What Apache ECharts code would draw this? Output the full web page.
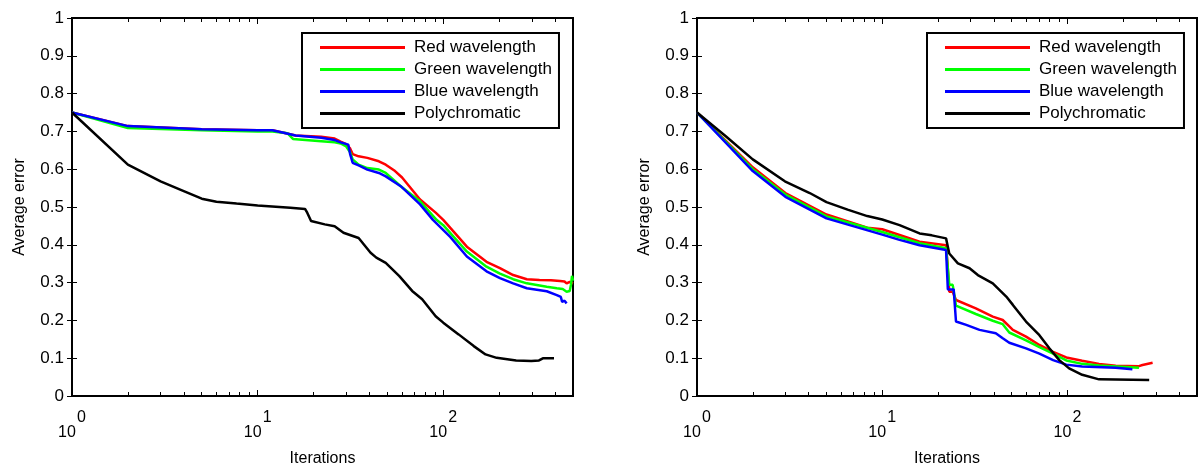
<!DOCTYPE html>
<html>
<head>
<meta charset="utf-8">
<script src="https://cdn.jsdelivr.net/npm/echarts@6.0.0/dist/echarts.min.js"></script>
<style>
body{margin:0;background:#fff;}
#chart{width:1199px;height:466px;}
</style>
</head>
<body>
<div id="chart"></div>
<script>
// [iterations, average error]
var leftRed = [[1,.75],[2,.714],[5,.706],[10,.703],[12,.703],[14,.696],[16,.689],[22,.686],[26,.681],[28,.673],[30,.666],[31.5,.655],[32.5,.640],[35,.634],[39,.630],[45,.621],[49,.612],[55,.595],[60,.578],[75,.52],[91,.485],[100,.466],[134,.395],[171,.355],[202,.338],[238,.320],[282,.309],[330,.307],[380,.306],[426,.304],[450,.303],[462,.298],[480,.302],[500,.298]];
var leftGreen = [[1,.75],[2,.709],[5,.703],[10,.700],[12,.700],[14.5,.695],[15.5,.680],[22,.674],[26,.671],[28,.668],[30,.660],[31.5,.645],[32.5,.626],[35,.612],[39,.603],[45,.599],[49,.590],[59,.555],[75,.515],[92,.466],[100,.452],[134,.382],[171,.342],[202,.324],[238,.309],[282,.298],[361,.289],[409,.285],[440,.283],[462,.276],[472,.280],[480,.278],[488,.295],[494,.318],[500,.305]];
var leftBlue = [[1,.75],[2,.714],[5,.706],[10,.703],[12,.703],[14,.696],[16,.689],[22,.683],[26,.677],[28,.671],[30.8,.665],[31.5,.640],[32.5,.617],[35,.610],[39,.599],[45,.590],[49,.581],[59,.555],[75,.507],[88,.466],[109,.421],[134,.369],[171,.330],[202,.312],[238,.298],[282,.285],[361,.277],[409,.267],[430,.262],[437,.249],[450,.252],[462,.245]];
var leftPoly = [[1,.75],[2,.612],[3,.568],[4,.542],[5,.522],[6,.514],[7.7,.509],[10,.504],[15,.498],[18,.495],[18.5,.485],[19.4,.463],[23,.454],[26,.449],[29,.432],[35,.418],[40.6,.379],[43.6,.366],[49,.352],[58,.317],[68,.278],[77,.256],[91,.211],[100,.194],[121,.163],[146,.132],[169,.110],[194,.101],[247,.094],[298,.0925],[328,.094],[344,.0996],[395,.0996]];

var rightRed = [[1,.75],[2,.605],[3,.537],[5,.480],[8.3,.445],[10,.441],[12.4,.426],[15.9,.408],[22.1,.399],[22.5,.35],[23,.276],[24,.276],[25,.254],[32,.232],[39.5,.21],[44.7,.201],[50.7,.175],[59.7,.157],[70.5,.135],[83.6,.117],[98.5,.102],[120,.093],[148,.085],[182,.08],[243,.079],[254,.082],[288,.088]];
var rightGreen = [[1,.75],[2,.600],[3,.533],[5,.475],[10,.434],[12.4,.420],[15.9,.404],[22.1,.391],[23,.294],[24,.294],[25,.239],[32,.217],[39.5,.199],[44.7,.190],[48.5,.168],[59.7,.147],[70.5,.129],[83.6,.112],[98.5,.094],[120,.085],[148,.081],[243,.075]];
var rightBlue = [[1,.75],[2,.595],[3,.527],[5,.470],[10,.427],[12.4,.413],[15.9,.399],[22.1,.386],[22.6,.282],[24.3,.282],[25,.197],[28.4,.188],[33.5,.175],[41,.166],[44.7,.153],[48.5,.141],[59.7,.126],[70.5,.112],[83.6,.095],[98.5,.083],[120,.078],[182,.075],[224,.071]];
var rightPoly = [[1,.75],[1.43,.687],[2,.626],[2.98,.568],[4.06,.537],[5,.513],[6.5,.493],[8.3,.476],[10,.467],[12.4,.452],[15.9,.430],[18.5,.425],[22.1,.417],[23,.377],[25.6,.351],[29.6,.338],[32.8,.320],[39.5,.298],[46.7,.263],[50.7,.241],[59.7,.197],[70.5,.161],[79.8,.126],[90.3,.095],[102,.073],[120,.056],[148,.044],[276,.042]];

var legendNames = ['Red wavelength','Green wavelength','Blue wavelength','Polychromatic'];
var lineColors = ['#ff0000','#00ff00','#0000ff','#000000'];
var panels = [[leftRed,leftGreen,leftBlue,leftPoly],[rightRed,rightGreen,rightBlue,rightPoly]];

var xMin = 1, xMax = 500;
var majorTicks = [1,10,100];
var minorTicks = [2,3,4,5,6,7,8,9,20,30,40,50,60,70,80,90,200,300,400];

var FONT = '"Liberation Sans", Arial, sans-serif';
var grids = [
	{left:72, top:18, width:501, height:378},
	{left:697, top:18, width:500, height:378}
];
var legendLeft = [302, 927];

// axis that only draws inward ticks (placed in log10 space)
function tickAxis(gi, pos, vals, len){
	return {
		type:'value', gridIndex:gi, position:pos,
		min:0, max:Math.log10(xMax),
		axisLine:{show:false}, axisLabel:{show:false}, splitLine:{show:false},
		axisTick:{show:true, inside:true, length:len,
			customValues:vals.map(function(v){return Math.log10(v);}),
			lineStyle:{color:'#000', width:1}}
	};
}

var xAxes = [], yAxes = [], series = [], legends = [];
grids.forEach(function(g, gi){
	g.show = true;
	g.borderColor = '#000';
	g.borderWidth = 2;
	g.backgroundColor = '#fff';
	g.containLabel = false;
	g.outerBoundsMode = 'none';
	var mainX = xAxes.length;
	xAxes.push({
		type:'log', logBase:10, gridIndex:gi, min:xMin, max:xMax,
		name:'Iterations', nameLocation:'middle', nameGap:55,
		nameTextStyle:{fontFamily:FONT, fontSize:16, color:'#000'},
		axisLine:{show:false}, axisTick:{show:false}, splitLine:{show:false},
		axisLabel:{
			margin:14, showMaxLabel:false,
			formatter:function(v){
				var e = Math.log10(v);
				if (Math.abs(e - Math.round(e)) > 1e-6) return '';
				return '{e|' + Math.round(e) + '}\n{b|10}';
			},
			rich:{
				e:{fontFamily:FONT, fontSize:16, color:'#000', align:'right', lineHeight:15},
				b:{fontFamily:FONT, fontSize:16, color:'#000', align:'left', lineHeight:15, padding:[0,10,0,0]}
			}
		}
	});
	xAxes.push(tickAxis(gi,'bottom',majorTicks,6));
	xAxes.push(tickAxis(gi,'bottom',minorTicks,4));
	xAxes.push(tickAxis(gi,'top',majorTicks,6));
	xAxes.push(tickAxis(gi,'top',minorTicks,4));

	var mainY = yAxes.length;
	yAxes.push({
		type:'value', gridIndex:gi, min:0, max:1, interval:0.1,
		name:'Average error', nameLocation:'middle', nameGap:44,
		nameTextStyle:{fontFamily:FONT, fontSize:16, color:'#000'},
		axisLine:{show:false}, splitLine:{show:false},
		axisTick:{show:true, inside:true, length:5, lineStyle:{color:'#000'}},
		axisLabel:{fontFamily:FONT, fontSize:17, color:'#000', margin:8}
	});
	yAxes.push({
		type:'value', gridIndex:gi, position:'right', min:0, max:1, interval:0.1,
		axisLine:{show:false}, splitLine:{show:false}, axisLabel:{show:false},
		axisTick:{show:true, inside:true, length:5, lineStyle:{color:'#000'}}
	});

	panels[gi].forEach(function(d, si){
		series.push({
			name:legendNames[si], type:'line', xAxisIndex:mainX, yAxisIndex:mainY,
			data:d, showSymbol:false, symbol:'none',
			lineStyle:{color:lineColors[si], width:2.5},
			itemStyle:{color:lineColors[si]}
		});
	});

	legends.push({
		left:legendLeft[gi], top:33, orient:'vertical',
		data:legendNames.map(function(n){return {name:n, icon:'rect'};}),
		itemWidth:85, itemHeight:3, itemGap:5,
		padding:[6,7,6,18],
		borderColor:'#000', borderWidth:2, backgroundColor:'#fff',
		selectedMode:false,
		textStyle:{fontFamily:FONT, fontSize:17, color:'#000', lineHeight:17, padding:[0,0,0,4]}
	});
});

var chart = echarts.init(document.getElementById('chart'));
chart.setOption({
	animation:false,
	grid:grids,
	xAxis:xAxes,
	yAxis:yAxes,
	legend:legends,
	series:series
});
</script>
</body>
</html>
